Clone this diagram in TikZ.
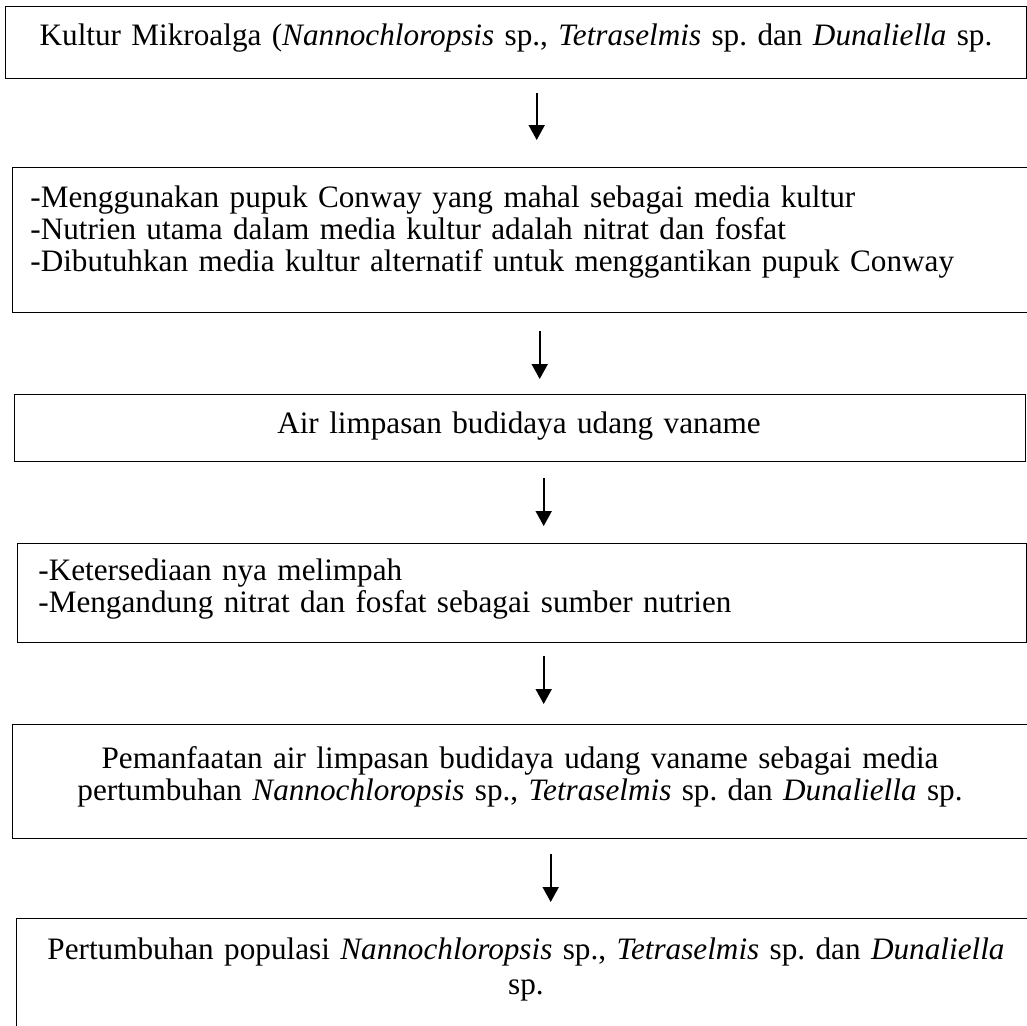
\documentclass[tikz,border=0pt]{standalone}
\usepackage{fontspec}
\setmainfont{Liberation Serif}
\usetikzlibrary{arrows.meta}
\frenchspacing

\begin{document}
\begin{tikzpicture}[x=0.5pt, y=-0.5pt]
    \tikzstyle{kotak} = [rectangle, draw=black, line width=0.7pt, inner sep=0pt, anchor=north west]
    \tikzstyle{teks} = [inner sep=0pt, text width=505pt, font=\fontsize{15.6}{16.2}\selectfont]
    \tikzstyle{panah} = [-{Triangle[length=7.5pt, width=8pt]}, line width=0.9pt]

    \useasboundingbox (0,0) rectangle (1027,1025);

    % Boxes
    \node [kotak, minimum width=510.5pt, minimum height=36pt] (kultur) at (5,6) {};
    \node [kotak, minimum width=509pt, minimum height=72.5pt] (masalah) at (12,167) {};
    \node [kotak, minimum width=505.5pt, minimum height=33.5pt] (limpasan) at (14,394) {};
    \node [kotak, minimum width=504.5pt, minimum height=49.5pt] (kelebihan) at (17,543) {};
    \node [kotak, minimum width=509pt, minimum height=57pt] (pemanfaatan) at (12,724) {};
    \node [kotak, minimum width=509pt, minimum height=61pt] (pertumbuhan) at (16,918) {};

    % Texts
    \node [teks, align=center, anchor=base] (kultur-teks) at (516,45)
        {Kultur Mikroalga (\textit{Nannochloropsis} sp., \textit{Tetraselmis} sp. dan \textit{Dunaliella} sp.};
    \node [teks, align=left, anchor=base west] (masalah-teks) at (30,207)
        {-Menggunakan pupuk Conway yang mahal sebagai media kultur\\
         -Nutrien utama dalam media kultur adalah nitrat dan fosfat\\
         -Dibutuhkan media kultur alternatif untuk menggantikan pupuk Conway};
    \node [teks, align=center, anchor=base] (limpasan-teks) at (519,433)
        {Air limpasan budidaya udang vaname};
    \node [teks, align=left, anchor=base west] (kelebihan-teks) at (38,580)
        {-Ketersediaan nya melimpah\\
         -Mengandung nitrat dan fosfat sebagai sumber nutrien};
    \node [teks, align=center, anchor=base] (pemanfaatan-teks) at (520,768)
        {Pemanfaatan air limpasan budidaya udang vaname sebagai media\\
         pertumbuhan \textit{Nannochloropsis} sp., \textit{Tetraselmis} sp. dan \textit{Dunaliella} sp.};
    \node [teks, align=center, anchor=base] (pertumbuhan-teks) at (526,959)
        {Pertumbuhan populasi \textit{Nannochloropsis} sp., \textit{Tetraselmis} sp. dan \textit{Dunaliella}\\[1.5pt]
         sp.};

    % Connections
    \draw [panah] ([xshift=10.25pt, yshift=-7pt]kultur.south) -- ([xshift=7.5pt, yshift=13.5pt]masalah.north);
    \draw [panah] ([xshift=9pt, yshift=-9pt]masalah.south) -- ([xshift=9.75pt, yshift=7.5pt]limpasan.north);
    \draw [panah] ([xshift=11.75pt, yshift=-8pt]limpasan.south) -- ([xshift=10.75pt, yshift=8.5pt]kelebihan.north);
    \draw [panah] ([xshift=10.75pt, yshift=-6.5pt]kelebihan.south) -- ([xshift=11pt, yshift=10pt]pemanfaatan.north);
    \draw [panah] ([xshift=14.5pt, yshift=-7.5pt]pemanfaatan.south) -- ([xshift=12.5pt, yshift=8pt]pertumbuhan.north);
\end{tikzpicture}
\end{document}
